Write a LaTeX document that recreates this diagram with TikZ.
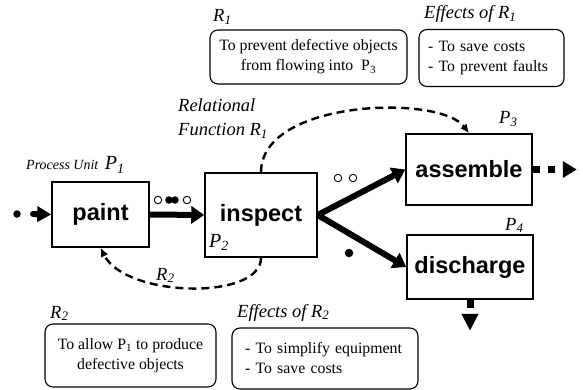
\documentclass[tikz,border=0pt]{standalone}
\usepackage{fontspec}
\setmainfont{Liberation Serif}
\newfontfamily\unitfont{Liberation Sans}
\usetikzlibrary{arrows.meta,positioning}
\tikzset{%
   unit/.style={draw, line width=1.5pt, inner sep=0pt, font=\unitfont\bfseries\fontsize{23.5}{26}\selectfont},
   note/.style={draw, line width=1.1pt, rounded corners=8pt, inner sep=0pt, font=\fontsize{15.8}{20}\selectfont},
   lbl/.style={inner sep=0pt, anchor=base west, font=\itshape\fontsize{18.5}{22}\selectfont},
   obj/.style={circle, inner sep=0pt, outer sep=0pt, minimum size=7.5pt, line width=0.9pt},
   flow/.style={line width=6pt, -{Triangle[length=13pt,width=17pt]}},
   outflow/.style={line width=7pt, -{Triangle[length=14pt,width=16pt]}},
   relfn/.style={line width=2.4pt, dash pattern=on 8pt off 5pt, -{Latex[length=9pt,width=8pt]}},
}

\begin{document}
\begin{tikzpicture}[x=1pt, y=-1pt]
      \useasboundingbox (0,0) rectangle (583,390);
      % process units
      \node[unit, minimum width=97pt, minimum height=65pt] (paint) at (100.5,214.5) {paint};
      \node[unit, minimum width=112pt, minimum height=84pt] (inspect) at (261,215) {inspect};
      \node[unit, minimum width=126pt, minimum height=71pt] (assemble) at (469,169.5) {assemble};
      \node[unit, minimum width=126pt, minimum height=64pt] (discharge) at (470,267) {discharge};
      % unit labels
      \node[lbl, font=\itshape\fontsize{14}{16}\selectfont] (pu) at (26,170) {Process Unit};
      \node[lbl, font=\itshape\fontsize{20}{22}\selectfont, right=6pt of pu.base east, anchor=base west] (p1) {P\textsubscript{1}};
      \node[lbl, font=\itshape\fontsize{20}{22}\selectfont] (p2) at (209,247) {P\textsubscript{2}};
      \node[lbl] (p3) at (499,124) {P\textsubscript{3}};
      \node[lbl] (p4) at (505,230) {P\textsubscript{4}};
      % flow of objects
      \node[obj, fill] (src) at (17,214) {};
      \coordinate (in) at (33,214);
      \draw[line width=6pt, line cap=round, -{Triangle[length=14pt,width=15pt]}] (in) -- (paint.west);
      \draw[flow] (paint.east) -- (inspect.west);
      \draw[flow] (inspect.east) -- (assemble.west);
      \draw[flow] (inspect.east) -- (discharge.west);
      \coordinate (sink3) at ([xshift=44pt]assemble.east);
      \coordinate (sink4) at ([yshift=-31pt]discharge.south);
      \draw[outflow, dash pattern=on 7pt off 8pt] (assemble.east) -- (sink3);
      \draw[outflow, -{Triangle[length=17pt,width=16pt]}, dash pattern=on 8pt off 6pt] (discharge.south) -- (sink4);
      \node[obj, draw] (o1) at (158,200) {};
      \node[obj, fill] (o2) at (169,200) {};
      \node[obj, fill] (o3) at (175,200) {};
      \node[obj, draw] (o4) at (187,200) {};
      \node[obj, draw] (o5) at (338,178) {};
      \node[obj, draw] (o6) at (353,178) {};
      \node[obj, fill, minimum size=8.5pt] (o7) at (349,253) {};
      % relational functions
      \draw[relfn] (inspect.north) .. controls +(0,-73) and +(-29,-39) .. (assemble.north);
      \draw[relfn] (inspect.south) .. controls +(0,43) and +(25,50) .. (paint.south);
      \node[lbl] (rel1) at (178,112) {Relational};
      \node[lbl] (rel2) at (178,136) {Function R\textsubscript{1}};
      \node[lbl] (r2arc) at (156,280) {R\textsubscript{2}};
      % notes
      \node[note, minimum width=197pt, minimum height=54pt, align=center] (r1box) at (308.5,57) {To prevent defective objects\\from flowing into\ \ P\textsubscript{3}};
      \node[note, text width=127pt, inner xsep=9pt, minimum height=57pt, align=left] (e1box) at (491.5,58) {- To save costs\\- To prevent faults};
      \node[note, minimum width=171pt, minimum height=63pt, align=center] (r2box) at (130.5,355.5) {To allow P\textsubscript{1} to produce\\defective objects};
      \node[note, text width=160pt, inner xsep=13pt, minimum height=61pt, align=left] (e2box) at (325,358.5) {- To simplify equipment\\- To save costs};
      \node[lbl] (r1lbl) at (213,22) {R\textsubscript{1}};
      \node[lbl] (e1lbl) at (424,19) {Effects of R\textsubscript{1}};
      \node[lbl] (r2lbl) at (50,318) {R\textsubscript{2}};
      \node[lbl] (e2lbl) at (237,317) {Effects of R\textsubscript{2}};
\end{tikzpicture}
\end{document}
